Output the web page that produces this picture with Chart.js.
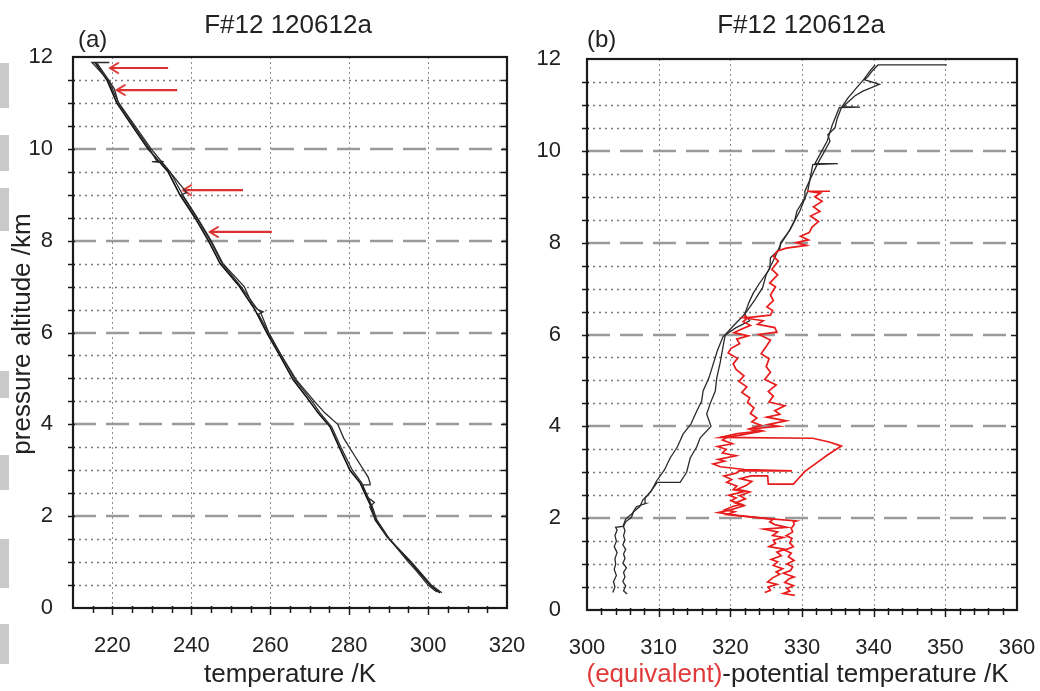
<!DOCTYPE html>
<html><head><meta charset="utf-8">
<script src="https://cdn.jsdelivr.net/npm/chart.js@4.4.1/dist/chart.umd.min.js"></script>
<style>
html,body{margin:0;padding:0;background:#fff;}
#wrap{position:relative;width:1040px;height:691px;overflow:hidden;background:#fff;}
#ca{position:absolute;left:0;top:0;}
#cb{position:absolute;left:520px;top:0;}
.blk{position:absolute;left:0;width:9px;background:#c9c9c9;}
</style></head><body>
<div id="wrap">
<div class="blk" style="top:63px;height:45px"></div>
<div class="blk" style="top:135px;height:36px"></div>
<div class="blk" style="top:188px;height:43px"></div>
<div class="blk" style="top:371px;height:27px"></div>
<div class="blk" style="top:455px;height:35px"></div>
<div class="blk" style="top:539px;height:49px"></div>
<div class="blk" style="top:624px;height:40px"></div>
<canvas id="cb" width="520" height="691"></canvas>
<canvas id="ca" width="560" height="691"></canvas>
</div>
<script>
// ---------------- data: panel (a) temperature ----------------
const altA1 = [0.33,0.5,0.83,1.0,1.55,1.92,2.2,2.4,2.72,3.0,3.5,3.94,4.25,4.5,4.97,5.5,6.0,6.5,7.0,7.5,8.0,8.5,9.0,9.5,10.0,10.5,11.0,11.5,11.88];
const tempA1 = [303.0,300.5,297.2,295.5,289.6,286.6,285.6,284.5,282.8,280.2,277.5,275.2,272.1,270.0,265.8,262.4,259.1,256.1,252.2,247.3,244.3,240.9,237.1,234.1,229.0,225.0,221.1,218.6,215.6];

const altA2 = [0.35,0.5,0.83,1.0,1.55,1.92,2.05,2.2,2.3,2.4,2.72,3.0,3.5,3.94,4.25,4.5,4.97,5.5,6.0,6.4,6.45,6.5,7.0,7.5,8.0,8.5,9.0,9.05,9.5,9.7,9.72,9.72,9.74,10.0,10.5,11.0,11.3,11.5,11.88];
const tempA2 = [302.2,300.0,296.8,295.0,289.8,286.9,286.0,285.2,286.4,284.8,283.2,280.8,277.9,275.6,272.6,270.6,266.3,262.8,259.5,257.0,258.2,256.8,252.6,247.8,244.8,241.3,237.6,238.8,234.5,232.5,230.0,233.0,231.2,229.4,225.4,221.5,220.5,219.0,216.0];

const altA3 = [0.33,0.5,1.0,1.5,1.92,2.2,2.5,2.68,2.68,2.72,2.85,3.3,3.7,3.88,4.0,4.25,4.5,4.97,5.5,6.0,6.45,6.6,7.0,7.5,8.0,8.5,9.0,9.5,10.0,10.5,11.0,11.5,11.88,11.88];
const tempA3 = [303.5,300.8,295.8,290.2,287.0,285.9,284.3,283.3,285.3,285.3,284.8,281.5,278.6,277.7,277.1,273.8,271.2,266.6,262.8,259.6,257.5,255.5,253.4,248.0,245.0,241.5,237.8,234.6,229.8,225.7,221.6,218.9,214.8,219.2];

// red arrows in panel (a): altitude, tail temperature, head temperature
const arrowAlt  = [11.76, 11.28, 9.10, 8.19];
const arrowFrom = [234.1, 236.4, 253.1, 260.4];
const arrowTo   = [219.4, 221.1, 237.9, 244.7];

// ---------------- data: panel (b) potential temperature ----------------
const altTh1 = [0.38,0.50,0.62,0.75,0.88,1.00,1.12,1.25,1.38,1.50,1.62,1.74,1.80,1.82,1.98,2.10,2.25,2.32,2.44,2.60,2.81,3.05,3.31,3.55,3.83,4.05,4.33,4.55,4.77,5.05,5.30,5.65,5.96,6.15,6.30,6.44,6.70,6.90,7.10,7.43,7.67,7.87,8.00,8.25,8.50,8.69,8.95,9.12,9.40,9.70,9.95,10.21,10.35,10.50,10.70,10.94,11.15,11.37,11.55,11.74,11.87];
const thetaTh1 = [303.6,303.9,303.7,304.1,303.8,304.0,303.9,304.2,303.8,304.1,303.9,304.2,304.0,305.0,305.4,306.3,306.9,308.2,308.1,309.0,309.7,310.8,311.6,312.6,313.4,314.5,315.3,316.0,316.2,317.0,317.5,318.2,319.0,320.8,322.7,322.0,322.6,323.2,324.0,325.5,325.6,326.9,327.0,328.2,329.0,329.3,330.3,330.4,331.2,332.1,333.0,333.9,333.6,334.6,334.9,335.5,336.4,337.6,338.6,339.5,340.2];

const altTh2 = [0.35,0.42,0.52,0.62,0.72,0.82,0.92,1.02,1.12,1.22,1.32,1.42,1.52,1.62,1.72,1.82,1.92,2.02,2.14,2.26,2.40,2.52,2.65,2.78,2.78,3.00,3.31,3.55,3.75,4.00,4.27,4.50,4.77,5.05,5.40,5.75,6.00,6.20,6.44,6.75,7.02,7.30,7.67,7.96,8.30,8.69,9.12,9.45,9.70,9.72,9.72,9.95,10.21,10.55,10.94,10.95,10.96,11.20,11.30,11.45,11.55,11.62,11.74,11.82,11.87,11.87];
const thetaTh2 = [305.6,305.1,305.4,305.0,305.3,305.1,305.5,305.0,305.3,305.1,305.4,305.0,305.3,305.1,305.3,305.1,305.4,306.2,306.5,307.4,307.8,308.6,309.2,309.8,313.0,313.9,314.4,315.3,315.8,317.3,316.7,317.2,317.9,318.1,318.6,319.0,319.3,320.5,322.0,323.4,324.5,325.0,326.2,327.0,328.4,329.7,330.8,331.2,331.5,335.0,331.8,332.6,333.5,334.2,335.2,338.1,335.7,337.4,338.5,340.8,338.7,339.2,339.8,340.3,340.6,350.2];

const altE1 = [0.38,0.43,0.50,0.56,0.61,0.70,0.78,0.83,0.90,0.97,1.05,1.10,1.18,1.26,1.32,1.38,1.45,1.52,1.58,1.62,1.70,1.76,1.80,1.86,1.92,1.98,2.04,2.08,2.14,2.18,2.26,2.30,2.38,2.44,2.50,2.58,2.62,2.70,2.78,2.84,2.92,2.98,3.03,3.03,3.06,3.12,3.18,3.24,3.28,3.36,3.42,3.50,3.56,3.62,3.70,3.76,3.82,3.88,3.94,4.02,4.10,4.18,4.28,4.40,4.52,4.62,4.74,4.86,4.98,5.10,5.24,5.36,5.48,5.60,5.70,5.80,5.90,5.97,6.04,6.12,6.20,6.28,6.36,6.42];
const thetaE1 = [324.8,325.6,325.3,326.5,325.2,325.9,326.9,326.4,327.3,326.0,326.6,325.7,327.1,326.5,327.6,325.4,326.3,326.0,327.4,325.9,326.6,324.7,327.9,326.2,325.5,326.0,322.0,319.5,320.6,319.2,320.4,321.6,320.1,320.8,319.8,321.9,320.4,320.9,319.5,320.2,319.1,320.8,321.2,328.6,322.0,318.6,317.6,319.2,318.3,320.8,318.9,319.4,318.2,320.3,318.9,319.5,321.8,323.9,322.6,324.3,323.0,323.7,322.8,323.3,322.4,322.7,321.6,322.3,321.2,321.9,320.8,320.4,321.0,319.7,320.1,321.3,320.9,322.5,320.5,321.6,322.8,321.8,322.4,321.9];

const altE2 = [0.32,0.36,0.41,0.47,0.53,0.60,0.68,0.72,0.80,0.86,0.94,1.00,1.08,1.16,1.24,1.30,1.38,1.46,1.56,1.62,1.70,1.78,1.86,1.92,1.94,2.00,2.06,2.12,2.18,2.27,2.33,2.42,2.49,2.57,2.63,2.71,2.80,2.86,2.92,2.92,2.74,2.74,2.88,3.02,3.20,3.38,3.57,3.66,3.74,3.76,3.84,3.90,3.95,4.00,4.04,4.12,4.20,4.26,4.34,4.45,4.53,4.66,4.76,4.90,5.02,5.18,5.30,5.47,5.58,5.76,5.88,6.00,6.05,6.15,6.22,6.30,6.36,6.42,6.52,6.60,6.74,6.86,7.04,7.12,7.30,7.42,7.60,7.70,7.82,7.88,7.94,8.00,8.06,8.14,8.22,8.34,8.46,8.58,8.68,8.78,8.90,9.00,9.08,9.12,9.12];
const thetaE2 = [329.0,327.4,328.3,327.9,328.8,327.6,328.2,328.9,327.4,328.4,328.7,327.9,328.9,328.1,328.5,327.6,328.8,328.3,328.6,327.8,328.7,328.5,328.9,328.8,329.2,324.5,321.0,318.3,320.0,321.9,320.7,322.1,321.3,322.7,321.0,322.2,323.0,321.4,322.9,325.2,325.3,328.8,329.6,330.4,332.0,333.6,335.5,333.8,331.5,318.6,321.0,324.5,323.2,326.8,325.3,327.8,325.1,326.9,326.2,327.6,325.4,326.0,325.3,326.4,324.8,325.6,325.0,325.4,324.3,325.1,325.6,324.0,326.5,326.2,323.8,324.6,322.0,325.6,325.9,325.1,326.0,325.6,326.3,325.5,326.6,325.8,326.7,326.0,326.6,327.8,330.6,329.2,330.9,329.8,331.0,331.4,332.3,331.2,332.5,331.6,332.8,331.8,332.6,330.7,333.9];

// ---------------- axes ----------------
const yTicks = [0,2,4,6,8,10,12];
const yDashed = [2,4,6,8,10];
const yDotted = [0.5,1,1.5,2.5,3,3.5,4.5,5,5.5,6.5,7,7.5,8.5,9,9.5,10.5,11,11.5];
const yAxisMarks = [0.5,1,1.5,2,2.5,3,3.5,4,4.5,5,5.5,6,6.5,7,7.5,8,8.5,9,9.5,10,10.5,11,11.5];
const xTicksA = [220,240,260,280,300,320];
const xGridA = [220,240,260,280,300];
const xMinorA = [215,220,225,230,235,240,245,250,255,260,265,270,275,280,285,290,295,300,305,310,315];
const xTicksB = [300,310,320,330,340,350,360];
const xGridB = [310,320,330,340,350];
const xMinorB = [302,304,306,308,310,312,314,316,318,320,322,324,326,328,330,332,334,336,338,340,342,344,346,348,350,352,354,356,358];

const FONT = '"Liberation Sans", Arial, Helvetica, sans-serif';
const TXT = '#222';
const RED = 'rgb(232,28,28)';
const pts = (alts, vals) => alts.map((a, i) => ({x: vals[i], y: a}));

function chevron(color) {
  const c = document.createElement('canvas');
  c.width = 22; c.height = 16;
  const g = c.getContext('2d');
  g.strokeStyle = color; g.lineWidth = 2; g.lineCap = 'round';
  g.beginPath(); g.moveTo(19, 3); g.lineTo(11, 8); g.lineTo(19, 13); g.stroke();
  return c;
}
const headImg = chevron('#dd3030');

const lineDS = (data, color, w) => ({data, showLine: true, borderColor: color, borderWidth: w,
  pointRadius: 0, pointHoverRadius: 0, fill: false, tension: 0});

const decor = {
  id: 'decor',
  beforeDatasetsDraw(chart, args, o) {
    const {ctx, chartArea: a, scales: {x, y}} = chart;
    ctx.save();
    ctx.beginPath(); ctx.rect(a.left, a.top, a.right - a.left, a.bottom - a.top); ctx.clip();
    ctx.strokeStyle = '#8c8c8c'; ctx.lineWidth = 1; ctx.setLineDash([2, 3]);
    o.gridX.forEach(v => {
      const px = Math.round(x.getPixelForValue(v)) + 0.5;
      ctx.beginPath(); ctx.moveTo(px, a.top); ctx.lineTo(px, a.bottom); ctx.stroke();
    });
    ctx.strokeStyle = '#7a7a7a'; ctx.lineWidth = 1.3; ctx.setLineDash([2, 4]);
    yDotted.forEach(v => {
      const py = Math.round(y.getPixelForValue(v)) + 0.5;
      ctx.beginPath(); ctx.moveTo(a.left, py); ctx.lineTo(a.right, py); ctx.stroke();
    });
    ctx.strokeStyle = '#9a9a9a'; ctx.lineWidth = 2.5; ctx.setLineDash([23, 10]);
    yDashed.forEach(v => {
      const py = Math.round(y.getPixelForValue(v));
      ctx.beginPath(); ctx.moveTo(a.left, py); ctx.lineTo(a.right, py); ctx.stroke();
    });
    ctx.restore();
  },
  afterDatasetsDraw(chart, args, o) {
    const {ctx, chartArea: a, scales: {x, y}} = chart;
    ctx.save();
    ctx.strokeStyle = '#1a1a1a'; ctx.lineWidth = 1.5; ctx.setLineDash([]);
    yAxisMarks.forEach(v => {
      const py = Math.round(y.getPixelForValue(v)) + 0.5;
      ctx.beginPath(); ctx.moveTo(a.left - 5, py); ctx.lineTo(a.left + 2, py); ctx.stroke();
      ctx.beginPath(); ctx.moveTo(a.right - 6, py); ctx.lineTo(a.right, py); ctx.stroke();
    });
    o.xMinor.forEach(v => {
      const px = Math.round(x.getPixelForValue(v)) + 0.5;
      const len = o.xMajor.includes(v) ? 7 : 5;
      ctx.beginPath(); ctx.moveTo(px, a.bottom - 2); ctx.lineTo(px, a.bottom + len); ctx.stroke();
    });
    ctx.strokeStyle = '#1a1a1a'; ctx.lineWidth = 2.2;
    ctx.strokeRect(a.left, a.top, a.right - a.left, a.bottom - a.top);
    // texts
    ctx.fillStyle = TXT; ctx.textBaseline = 'alphabetic';
    ctx.font = '26px ' + FONT; ctx.textAlign = 'center';
    ctx.fillText(o.title, (a.left + a.right) / 2 + o.titleDx, 33);
    ctx.font = '24px ' + FONT; ctx.textAlign = 'left';
    ctx.fillText(o.panel, a.left + o.panelDx, 47);
    ctx.font = '26px ' + FONT;
    const parts = o.xTitle;
    const total = parts.reduce((s, p) => s + ctx.measureText(p.text).width, 0);
    let cx = o.xTitleCenter - total / 2;
    ctx.textAlign = 'left';
    parts.forEach(p => { ctx.fillStyle = p.color; ctx.fillText(p.text, cx, 682); cx += ctx.measureText(p.text).width; });
    if (o.yTitle) {
      ctx.fillStyle = TXT; ctx.textAlign = 'center'; ctx.textBaseline = 'middle';
      ctx.translate(o.yTitleX, o.yTitleY); ctx.rotate(-Math.PI / 2);
      ctx.fillText(o.yTitle, 0, 0);
    }
    ctx.restore();
  }
};

function makeScales(xmin, xmax, xTicks, yWidth, yPad, xHeight) {
  return {
    x: {type: 'linear', min: xmin, max: xmax,
      grid: {display: false}, border: {display: false},
      afterBuildTicks: s => { s.ticks = xTicks.map(v => ({value: v})); },
      ticks: {font: {family: FONT, size: 22}, color: TXT, padding: 17, maxRotation: 0, autoSkip: false},
      afterFit: s => { s.height = xHeight; s.paddingLeft = 0; s.paddingRight = 0; s.paddingTop = 0; s.paddingBottom = 0; }
    },
    y: {type: 'linear', min: 0, max: 12,
      grid: {display: false}, border: {display: false},
      afterBuildTicks: s => { s.ticks = yTicks.map(v => ({value: v})); },
      ticks: {font: {family: FONT, size: 22}, color: TXT, padding: yPad, autoSkip: false},
      afterFit: s => { s.width = yWidth; s.paddingTop = 0; s.paddingBottom = 0; s.paddingLeft = 0; s.paddingRight = 0; }
    }
  };
}

const common = {
  responsive: false, animation: false, devicePixelRatio: 1, events: [],
  plugins: {legend: {display: false}, tooltip: {enabled: false}, title: {display: false}}
};

// ---------- panel (a) ----------
const arrowSets = arrowAlt.map((al, i) => ({
  data: [{x: arrowFrom[i], y: al}, {x: arrowTo[i], y: al}],
  showLine: true, borderColor: '#dd3030', borderWidth: 2.2, tension: 0,
  pointRadius: [0, 6], pointHoverRadius: 0, pointStyle: headImg, pointBorderWidth: 0
}));

new Chart(document.getElementById('ca'), {
  type: 'scatter',
  data: {datasets: [
    lineDS(pts(altA3, tempA3), '#2a2a2a', 1.3),
    lineDS(pts(altA2, tempA2), '#2a2a2a', 1.3),
    lineDS(pts(altA1, tempA1), '#111', 1.6),
    ...arrowSets
  ]},
  options: Object.assign({}, common, {
    layout: {padding: {left: 0, right: 53, top: 57, bottom: 0}, autoPadding: false},
    scales: makeScales(210, 320, xTicksA, 73, 12, 83),
    plugins: Object.assign({}, common.plugins, {decor: {
      gridX: xGridA, xMinor: xMinorA, xMajor: xTicksA,
      title: 'F#12 120612a', titleDx: -2, panel: '(a)', panelDx: 5,
      xTitle: [{text: 'temperature /K', color: TXT}], xTitleCenter: 290,
      yTitle: 'pressure altitude /km', yTitleX: 23, yTitleY: 334
    }})
  }),
  plugins: [decor]
});

// ---------- panel (b) ----------
new Chart(document.getElementById('cb'), {
  type: 'scatter',
  data: {datasets: [
    lineDS(pts(altE1, thetaE1), RED, 1.7),
    lineDS(pts(altE2, thetaE2), RED, 1.7),
    lineDS(pts(altTh2, thetaTh2), '#2a2a2a', 1.3),
    lineDS(pts(altTh1, thetaTh1), '#2a2a2a', 1.3)
  ]},
  options: Object.assign({}, common, {
    layout: {padding: {left: 0, right: 23, top: 59, bottom: 0}, autoPadding: false},
    scales: makeScales(300, 360, xTicksB, 67, 18, 81),
    plugins: Object.assign({}, common.plugins, {decor: {
      gridX: xGridB, xMinor: xMinorB, xMajor: xTicksB,
      title: 'F#12 120612a', titleDx: -1, panel: '(b)', panelDx: 0,
      xTitle: [{text: '(equivalent)', color: '#e03a3a'}, {text: '-potential temperature /K', color: TXT}],
      xTitleCenter: 277.5, yTitle: null
    }})
  }),
  plugins: [decor]
});
</script>
</body></html>
